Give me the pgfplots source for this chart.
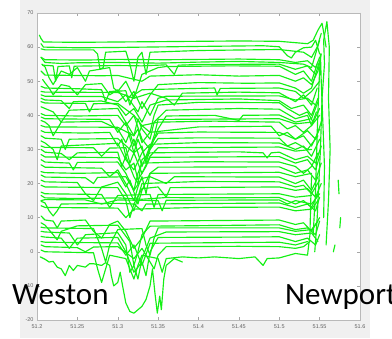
\documentclass[border=0pt]{standalone}
\usepackage{pgfplots}
\pgfplotsset{compat=1.18}
\usepackage{fontspec}
\setmainfont{Carlito}
\newfontfamily\hel{Liberation Sans}
\definecolor{mgreen}{RGB}{20,240,20}
\definecolor{figbg}{RGB}{240,240,240}
\tikzset{gl/.style={mgreen, line width=1.15pt, line join=round, line cap=round, no markers}}
\begin{document}
\begin{tikzpicture}[x=1pt,y=1pt]
\useasboundingbox (0,0) rectangle (392,339);
\fill[white] (0,0) rectangle (392,339);
\fill[figbg] (20,1) rectangle (370,339);
\begin{axis}[
  at={(37pt,19pt)}, anchor=south west,
  scale only axis, width=323pt, height=307pt,
  xmin=51.2, xmax=51.6, ymin=-20, ymax=70,
  xtick={51.2,51.25,51.3,51.35,51.4,51.45,51.5,51.55,51.6},
  xticklabels={51.2,51.25,51.3,51.35,51.4,51.45,51.5,51.55,51.6},
  ytick={-20,-10,0,10,20,30,40,50,60,70},
  yticklabels={-20,-10,0,10,20,30,40,50,60,70},
  tick align=inside, major tick length=3pt,
  tick style={gray!70, line width=0.4pt},
  axis line style={gray!55, line width=0.5pt},
  axis background/.style={fill=white},
  ticklabel style={font=\hel\fontsize{5.5}{6}\selectfont, text=gray!75!black},
  xticklabel style={yshift=-1pt},
  clip=true,
]
\addplot[gl] coordinates {(51.203,63.5)(51.205,62.5)(51.208,61.5)(51.25,61.4)(51.3,61.5)(51.35,61.6)(51.4,61.7)(51.45,61.8)(51.5,61.7)(51.52,61.3)(51.535,61)(51.542,62)(51.548,65)(51.553,67)(51.556,63)(51.558,60)};
\addplot[gl] coordinates {(51.205,61)(51.208,60)(51.25,59.8)(51.3,59.9)(51.4,60.2)(51.48,60.4)(51.5,60.1)(51.51,57.5)(51.515,56.8)(51.52,58.5)(51.53,59.8)(51.54,60)(51.545,62)(51.55,58)};
\addplot[gl] coordinates {(51.205,59.5)(51.21,59.2)(51.27,59.2)(51.275,58)(51.278,53.5)(51.282,54)(51.285,58.5)(51.31,58.8)(51.315,55)(51.32,50)(51.325,57)(51.33,58.5)(51.335,52)(51.34,58.5)(51.4,59)(51.5,59.3)(51.53,58.5)(51.54,57)(51.547,60)(51.552,64)};
\addplot[gl] coordinates {(51.205,57)(51.21,56.3)(51.26,56.2)(51.3,56.4)(51.36,56.3)(51.45,56.5)(51.5,56.3)(51.52,55.5)(51.535,56)(51.545,54)(51.55,57)};
\addplot[gl] coordinates {(51.205,57)(51.21,55.5)(51.23,55.2)(51.25,55.4)(51.3,55.5)(51.35,55.3)(51.4,55.6)(51.45,55.8)(51.5,55.5)(51.53,55)(51.54,54)(51.545,58)(51.55,62)};
\addplot[gl] coordinates {(51.207,54.7)(51.22,54.5)(51.223,50)(51.226,54.3)(51.24,54.5)(51.243,51)(51.246,54.4)(51.3,54.6)(51.33,54.5)(51.36,54.8)(51.37,52)(51.375,54.7)(51.4,54.9)(51.5,55)(51.52,53.5)(51.535,54.5)(51.545,52)(51.55,56)};
\addplot[gl] coordinates {(51.206,55)(51.21,54.2)(51.215,51)(51.22,49)(51.23,53)(51.24,52)(51.25,54)(51.26,50)(51.265,53)(51.29,54)(51.295,48)(51.3,47)(51.31,50)(51.32,45)(51.33,52)(51.35,54)(51.36,54.3)(51.44,54.5)(51.5,54.4)(51.52,52)(51.53,53)(51.54,50)(51.547,55)};
\addplot[gl] coordinates {(51.205,53)(51.21,51.8)(51.28,51.6)(51.3,51.7)(51.33,50)(51.34,51.5)(51.4,51.9)(51.45,51.5)(51.5,51.7)(51.52,50)(51.53,51)(51.54,49)(51.548,53)(51.552,58)};
\addplot[gl] coordinates {(51.207,50.5)(51.21,49.5)(51.215,48)(51.22,46)(51.225,47.5)(51.23,49)(51.24,48.5)(51.25,46)(51.26,49)(51.28,49.3)(51.29,46)(51.3,47.5)(51.31,44)(51.32,47)(51.33,42)(51.34,46)(51.35,49)(51.4,49.6)(51.46,49.4)(51.5,49.5)(51.52,48)(51.53,46.5)(51.54,48)(51.545,52)};
\addplot[gl] coordinates {(51.205,48.5)(51.21,48)(51.25,47.8)(51.28,47.5)(51.285,44)(51.29,47)(51.31,47.2)(51.315,43)(51.32,46)(51.33,47.5)(51.38,47.8)(51.42,48)(51.423,46)(51.427,47.9)(51.5,48)(51.52,47)(51.53,45)(51.54,47)(51.55,50)};
\addplot[gl] coordinates {(51.205,47)(51.21,46.8)(51.3,46.7)(51.32,45)(51.34,46.5)(51.36,45)(51.37,43)(51.38,46.5)(51.45,46.8)(51.5,46.6)(51.52,44)(51.53,46)(51.54,43)(51.547,48)};
\addplot[gl] coordinates {(51.205,46)(51.21,45.6)(51.28,45.5)(51.3,44)(51.31,46)(51.325,41)(51.33,44)(51.34,40)(51.35,45)(51.36,45.6)(51.5,45.7)(51.52,44.5)(51.535,45)(51.545,43)};
\addplot[gl] coordinates {(51.205,45)(51.21,44.5)(51.23,44.3)(51.24,42)(51.245,44)(51.28,44.2)(51.3,43)(51.31,40)(51.32,42)(51.33,38)(51.34,43)(51.36,44.5)(51.45,44.8)(51.5,44.3)(51.515,42)(51.53,43)(51.54,40)(51.548,45)};
\addplot[gl] coordinates {(51.205,44)(51.21,43.6)(51.26,43.5)(51.265,41)(51.27,43.4)(51.3,43.5)(51.32,40)(51.33,37)(51.34,35)(51.345,40)(51.35,43)(51.4,43.8)(51.5,43.7)(51.51,42)(51.525,40)(51.535,41)(51.542,38)(51.55,42)};
\addplot[gl] coordinates {(51.205,42.5)(51.21,42)(51.22,41)(51.23,38)(51.24,41.5)(51.3,42)(51.31,38)(51.32,34)(51.325,39)(51.33,36)(51.34,33)(51.345,38)(51.36,41.5)(51.45,42)(51.5,41.8)(51.52,39)(51.535,40)(51.54,37)(51.546,41)};
\addplot[gl] coordinates {(51.205,40.5)(51.21,40)(51.25,39.8)(51.3,40)(51.31,37)(51.32,40)(51.33,33)(51.34,30)(51.35,36)(51.36,39.8)(51.42,40)(51.45,38.5)(51.455,40)(51.5,40.1)(51.52,38)(51.54,39)(51.548,44)};
\addplot[gl] coordinates {(51.205,39.5)(51.21,39)(51.29,38.8)(51.3,35)(51.31,38)(51.32,29)(51.325,33)(51.335,27)(51.345,34)(51.35,38.8)(51.5,39)(51.52,37.5)(51.54,38)};
\addplot[gl] coordinates {(51.205,38.5)(51.21,38)(51.215,37)(51.22,34)(51.23,38)(51.28,38.2)(51.3,36)(51.31,32)(51.315,35)(51.32,31)(51.33,37)(51.35,38)(51.42,38.3)(51.5,38)(51.51,36)(51.52,37)(51.53,35)(51.54,37)(51.55,40)};
\addplot[gl] coordinates {(51.205,37)(51.21,36.6)(51.3,36.5)(51.32,34)(51.325,36)(51.33,32)(51.34,35)(51.4,36.6)(51.49,36.8)(51.5,34)(51.51,35)(51.52,33)(51.535,35.5)(51.545,33)(51.552,38)};
\addplot[gl] coordinates {(51.205,35.5)(51.21,35)(51.26,34.8)(51.29,35)(51.3,31)(51.305,33)(51.31,28)(51.32,33)(51.33,25)(51.34,31)(51.35,34.8)(51.4,35.1)(51.5,35)(51.52,33)(51.53,34)(51.54,31)(51.55,36)};
\addplot[gl] coordinates {(51.205,34)(51.21,33.3)(51.23,33)(51.235,30)(51.24,33)(51.3,33.2)(51.32,29)(51.33,31)(51.335,26)(51.34,30)(51.35,33.2)(51.4,33.4)(51.5,33.3)(51.51,31)(51.52,32)(51.535,30)(51.548,34)};
\addplot[gl] coordinates {(51.205,32.5)(51.21,31.9)(51.22,30)(51.225,27)(51.23,31)(51.3,31.8)(51.31,27)(51.32,24)(51.33,29)(51.34,31.5)(51.4,32)(51.5,31.9)(51.52,30)(51.53,31)(51.54,28)(51.55,33)};
\addplot[gl] coordinates {(51.205,31)(51.21,30.6)(51.27,30.5)(51.28,28)(51.29,30.4)(51.31,30.5)(51.315,26)(51.32,29)(51.33,23)(51.34,28)(51.35,30.5)(51.5,30.7)(51.52,29.5)(51.54,30)};
\addplot[gl] coordinates {(51.205,30)(51.21,29.2)(51.23,28.8)(51.24,27)(51.25,29)(51.3,29.2)(51.305,25)(51.31,28)(51.32,22)(51.325,20)(51.33,27)(51.34,29)(51.45,29.3)(51.48,29)(51.485,27.5)(51.49,29)(51.5,29.2)(51.52,27)(51.535,28)(51.545,26)(51.552,31)};
\addplot[gl] coordinates {(51.205,28.5)(51.21,27.8)(51.3,27.6)(51.31,24)(51.32,26)(51.325,21)(51.335,25)(51.34,27.7)(51.5,27.9)(51.52,26)(51.535,27)(51.545,24)(51.55,28)};
\addplot[gl] coordinates {(51.205,27)(51.21,26.3)(51.24,26)(51.245,24)(51.25,26.2)(51.3,26.3)(51.31,23)(51.32,18)(51.325,23)(51.33,26)(51.4,26.4)(51.5,26.3)(51.52,25)(51.53,23)(51.54,25)(51.548,29)};
\addplot[gl] coordinates {(51.205,25.5)(51.21,24.8)(51.28,24.5)(51.29,22)(51.3,24)(51.31,20)(51.32,15)(51.325,19)(51.33,22)(51.335,17)(51.34,23)(51.35,24.8)(51.5,24.9)(51.52,23)(51.535,24)(51.545,21)(51.552,26)};
\addplot[gl] coordinates {(51.205,23.5)(51.21,23.2)(51.25,23)(51.3,23.2)(51.31,19)(51.315,21)(51.325,14)(51.33,18)(51.34,23)(51.5,23.3)(51.52,22)(51.54,23)};
\addplot[gl] coordinates {(51.205,22.5)(51.21,21.9)(51.26,21.7)(51.27,20)(51.275,21.8)(51.31,22)(51.32,18)(51.33,21.5)(51.34,22)(51.36,20)(51.37,22)(51.5,21.9)(51.52,20)(51.53,21)(51.54,18)(51.548,22)};
\addplot[gl] coordinates {(51.205,21)(51.21,20.5)(51.25,20.3)(51.26,17)(51.27,15)(51.28,19)(51.3,20.4)(51.31,17)(51.32,12)(51.325,16)(51.33,20)(51.4,20.6)(51.5,20.5)(51.52,19)(51.53,19.5)(51.54,17)(51.55,21)};
\addplot[gl] coordinates {(51.205,19.5)(51.21,19)(51.3,18.8)(51.31,15)(51.315,10)(51.32,14)(51.33,18.5)(51.35,19)(51.36,16)(51.365,18.8)(51.5,19)(51.52,18)(51.535,18.5)(51.545,16)(51.552,20)};
\addplot[gl] coordinates {(51.205,17.5)(51.21,17)(51.28,16.8)(51.29,13)(51.3,16.5)(51.34,16.8)(51.345,13)(51.35,16.8)(51.5,17)(51.52,16)(51.54,16.5)};
\addplot[gl] coordinates {(51.205,16.5)(51.21,15.8)(51.25,15.6)(51.3,15.8)(51.33,15.4)(51.36,15.9)(51.4,15.8)(51.5,15.9)(51.52,14)(51.53,15)(51.54,13)(51.548,17)};
\addplot[gl] coordinates {(51.205,15)(51.21,15.3)(51.26,15.2)(51.28,14)(51.3,15.2)(51.35,15)(51.355,12)(51.36,15.1)(51.5,15.2)(51.51,14)(51.52,15)(51.54,14)(51.55,17)};
\addplot[gl] coordinates {(51.205,14.8)(51.21,14.3)(51.215,12)(51.22,10.5)(51.225,12)(51.23,14)(51.3,14.2)(51.32,14)(51.33,12)(51.335,14)(51.5,14.3)(51.52,13)(51.535,14)(51.545,12)(51.55,16)};
\addplot[gl] coordinates {(51.205,13.5)(51.21,13)(51.3,12.8)(51.31,10)(51.32,12.5)(51.4,13)(51.5,13.1)(51.52,12)(51.54,12.5)(51.548,15)};
\addplot[gl] coordinates {(51.205,10.5)(51.21,9.3)(51.22,9)(51.225,7)(51.23,9)(51.26,9.3)(51.27,6)(51.28,4)(51.29,8)(51.3,9)(51.31,6)(51.32,1)(51.33,4)(51.34,9)(51.5,9.3)(51.52,8)(51.53,8.5)(51.54,6)(51.55,10)};
\addplot[gl] coordinates {(51.205,8.5)(51.21,7.8)(51.22,5)(51.225,3.5)(51.23,6)(51.25,7.6)(51.3,7.8)(51.315,3)(51.32,-4)(51.325,0)(51.33,5)(51.34,7.5)(51.5,7.9)(51.52,6.5)(51.535,7)(51.545,5)(51.55,9)};
\addplot[gl] coordinates {(51.205,7.2)(51.21,7)(51.27,6.8)(51.28,1)(51.285,-3)(51.29,2)(51.3,6.5)(51.33,6.8)(51.335,2)(51.34,-1)(51.345,4)(51.35,7)(51.5,7)(51.52,6)(51.54,6.5)(51.548,9)};
\addplot[gl] coordinates {(51.205,6)(51.21,5.8)(51.24,5.5)(51.25,2)(51.26,5)(51.3,5.6)(51.31,2)(51.315,-6)(51.32,-4)(51.325,-8)(51.33,-2)(51.34,4)(51.36,5.8)(51.5,5.9)(51.52,5)(51.54,5.5)(51.548,3)};
\addplot[gl] coordinates {(51.205,4.5)(51.21,4.3)(51.23,4)(51.24,1)(51.25,4)(51.3,4.2)(51.31,0)(51.32,-6)(51.33,-3)(51.335,-7)(51.34,0)(51.35,4.2)(51.45,4.3)(51.5,4.4)(51.52,3)(51.535,4)(51.545,2)(51.55,5)};
\addplot[gl] coordinates {(51.205,3)(51.21,2.8)(51.3,2.6)(51.31,-1)(51.32,2)(51.33,-4)(51.34,2.5)(51.5,2.8)(51.52,2)(51.535,3)};
\addplot[gl] coordinates {(51.205,2)(51.21,1.5)(51.25,1.2)(51.26,0)(51.27,1.4)(51.3,1.5)(51.32,-2)(51.33,1)(51.34,-3)(51.345,-5)(51.35,-1)(51.36,1.5)(51.45,1.6)(51.5,1.5)(51.52,1)(51.53,1.5)(51.538,3)};
\addplot[gl] coordinates {(51.205,0.5)(51.21,0)(51.27,-0.3)(51.275,-5)(51.28,-9)(51.285,-5)(51.29,-1)(51.31,-2)(51.32,-8)(51.325,-4)(51.33,-1)(51.35,-2)(51.355,-6)(51.36,-2)(51.38,-1.5)(51.4,-1.8)(51.42,-1.5)(51.45,-2)(51.47,-1.5)(51.48,-4)(51.485,-2)(51.5,-1.8)(51.52,-0.5)(51.535,-1)(51.538,5)(51.539,15)(51.54,22)};
\addplot[gl] coordinates {(51.204,-1.5)(51.21,-2.2)(51.215,-3)(51.22,-2.8)(51.225,-4.5)(51.23,-5)(51.235,-7)(51.24,-4)(51.245,-5.5)(51.25,-4)(51.26,-4.5)(51.265,-3.5)(51.27,-3.5)(51.28,-4)(51.285,-3.2)(51.29,-4)(51.292,-7)(51.295,-10)(51.3,-9)(51.303,-6)(51.306,-10)(51.31,-15)(51.315,-17.5)(51.32,-18)(51.325,-17)(51.33,-16)(51.335,-14)(51.34,-10)(51.343,-5)(51.346,-12)(51.349,-18)(51.352,-13)(51.354,-17)(51.357,-8)(51.36,-4)(51.37,-2)(51.38,-3)};
\addplot[gl] coordinates {(51.544,0)(51.547,10)(51.549,20)(51.551,30)(51.553,45)(51.556,55)(51.555,62)(51.559,67.5)(51.562,60)(51.561,45)(51.563,30)(51.561,15)(51.558,2)};
\addplot[gl] coordinates {(51.542,5)(51.545,18)(51.547,35)(51.549,48)(51.551,58)(51.552,50)(51.554,38)(51.556,25)(51.555,10)};
\addplot[gl] coordinates {(51.573,21)(51.574,17)};
\addplot[gl] coordinates {(51.576,10)(51.575,7)};
\addplot[gl] coordinates {(51.569,2)(51.567,0)};
\end{axis}
\node[anchor=base west, inner sep=0pt, font=\fontsize{31}{31}\selectfont] at (12,34) {Weston};
\node[anchor=base west, inner sep=0pt, font=\fontsize{31}{31}\selectfont] at (285,34) {Newport};
\end{tikzpicture}
\end{document}
